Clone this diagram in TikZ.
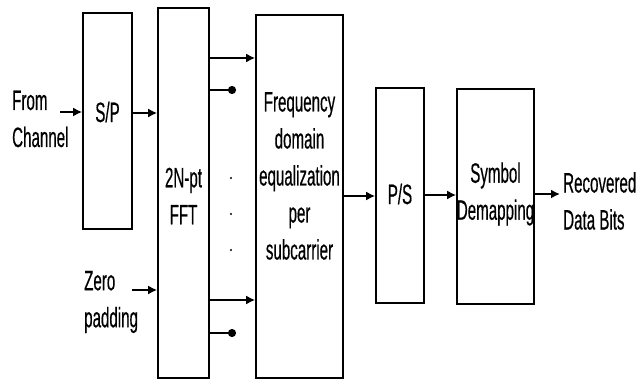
\documentclass[tikz,border=0pt]{standalone}
\usepackage{fontspec}
\setmainfont{Liberation Sans}[FakeStretch=0.54,FakeBold=0.4]
\usetikzlibrary{arrows.meta}

\begin{document}
\begin{tikzpicture}
  [x=1pt,y=-1pt,
   blk/.style={draw,rectangle,line width=1.6pt,inner sep=0pt},
   txt/.style={inner sep=0pt,font=\fontsize{28}{37}\selectfont},
   arr/.style={line width=2.4pt,-{Latex[length=9pt,width=9pt]}},
   stub/.style={line width=2.4pt,-{Circle[length=8pt]}}]
  \useasboundingbox (0,0) rectangle (637,379);

  % blocks
  \node[blk,minimum width=49pt,minimum height=216pt] (sp)  at (107.5,121) {};
  \node[blk,minimum width=51pt,minimum height=370pt] (fft) at (183.5,193) {};
  \node[blk,minimum width=87pt,minimum height=363pt] (eq)  at (299.5,196.5) {};
  \node[blk,minimum width=48pt,minimum height=215pt] (ps)  at (400,195.5) {};
  \node[blk,minimum width=77pt,minimum height=215pt] (sym) at (495.5,196.5) {};

  % texts
  \node[txt,anchor=west,align=left] (src) at (12,119) {From\\Channel};
  \node[txt,anchor=west,align=left] (zp)  at (84,302)   {Zero\\padding};
  \node[txt,anchor=west,align=left] (rec) at (563,201) {Recovered\\Data Bits};
  \node[txt] (spt) at (107.5,112) {S/P};
  \node[txt,align=center] (fftt) at (183.5,196) {2N-pt\\FFT};
  \node[txt,align=center] (eqt)  at (299.5,176) {Frequency\\domain\\equalization\\per\\subcarrier};
  \node[txt] (pst) at (400,194) {P/S};
  \node[txt,align=center] (symt) at (495.5,194) {Symbol\\Demapping};

  \coordinate (in1) at (60,112);
  \coordinate (in2) at (132,290);
  \coordinate (s1)  at (236,90);
  \coordinate (s2)  at (236,333);
  \coordinate (out) at (560,194);

  % connectors
  \draw[arr] (in1) -- (sp.west |- in1);
  \draw[arr] (sp.east |- 0,113) -- (fft.west |- 0,113);
  \draw[arr] (in2) -- (fft.west |- in2);
  \draw[arr] (fft.east |- 0,58) -- (eq.west |- 0,58);
  \draw[stub] (fft.east |- s1) -- (s1);
  \draw[arr] (fft.east |- 0,300) -- (eq.west |- 0,300);
  \draw[stub] (fft.east |- s2) -- (s2);
  \draw[arr] (eq.east |- 0,196) -- (ps.west |- 0,196);
  \draw[arr] (ps.east |- 0,195) -- (sym.west |- 0,195);
  \draw[arr] (sym.east |- out) -- (out);

  \foreach \y in {178,214,250}
    \fill (231,\y) circle (1.2);
\end{tikzpicture}
\end{document}
